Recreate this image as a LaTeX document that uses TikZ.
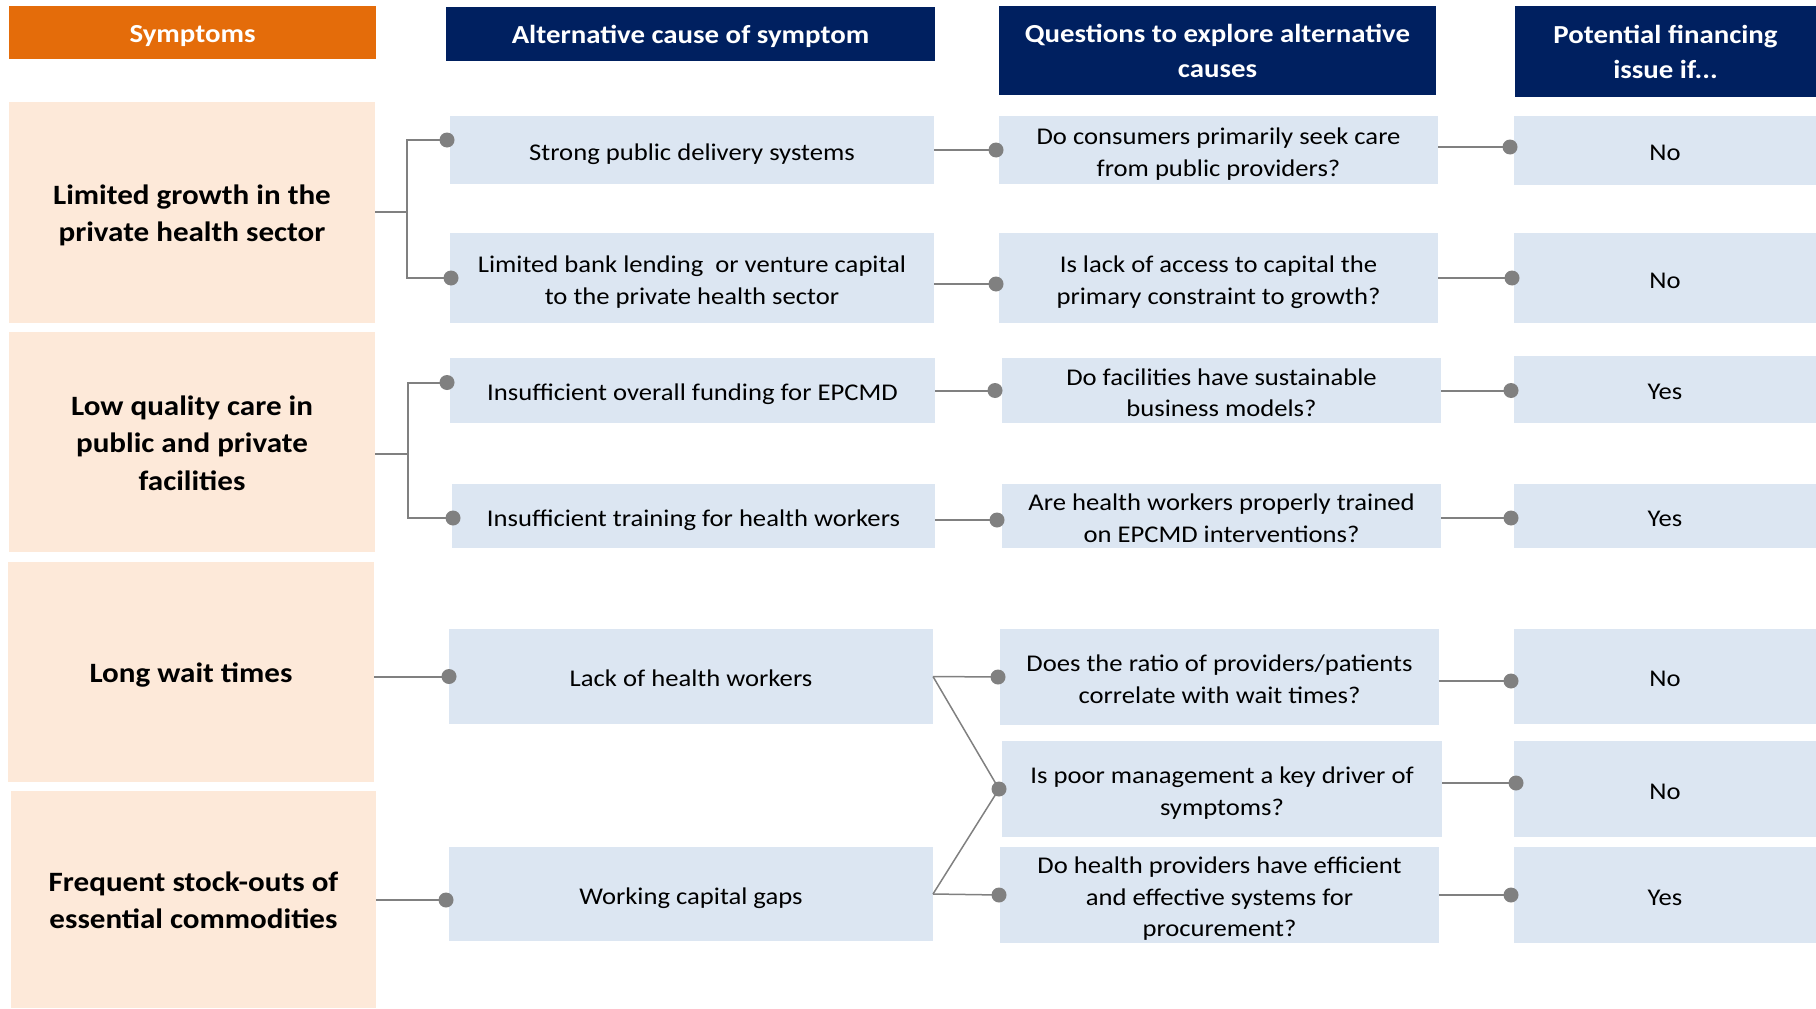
\documentclass[tikz,border=0pt]{standalone}
\usepackage{fontspec}
\setmainfont{Carlito}[FakeStretch=1.11]
\definecolor{orangeH}{HTML}{E46C0A}
\definecolor{navyH}{HTML}{002060}
\definecolor{peach}{HTML}{FDE9D9}
\definecolor{lblue}{HTML}{DCE6F2}
\definecolor{lineg}{HTML}{808080}
\newcommand{\boxtext}[2][-4pt]{\raisebox{#1}[\height][\depth]{\begin{tabular}{@{}c@{}}#2\end{tabular}}}
\begin{document}
\begin{tikzpicture}[x=1pt,y=-1pt,
  base/.style={inner sep=0pt, outer sep=0pt, align=center},
  hdr/.style={base, fill=navyH, text=white, font=\fontsize{26}{35}\selectfont\bfseries},
  symbox/.style={base, fill=peach, text=black, minimum width=366pt, font=\fontsize{28}{37.5}\selectfont\bfseries},
  cbox/.style={base, fill=lblue, text=black, font=\fontsize{24}{31.5}\selectfont},
  conn/.style={draw=lineg, line width=2pt},
  dotc/.style={fill=lineg}
]
\useasboundingbox (0,0) rectangle (1816,1009);
% headers
\node[hdr, fill=orangeH, minimum width=367pt, minimum height=53pt] (hS) at (192.5,32.5) {\boxtext[-2.5pt]{Symptoms}};
\node[hdr, minimum width=489pt, minimum height=54pt] (hA) at (690.5,34) {\boxtext[-2.5pt]{Alternative cause of symptom}};
\node[hdr, minimum width=437pt, minimum height=89pt] (hQ) at (1217.5,50.5) {\boxtext[-2.5pt]{Questions to explore alternative\\causes}};
\node[hdr, minimum width=301pt, minimum height=91pt] (hP) at (1665.5,51.5) {\boxtext[-2.5pt]{Potential financing\\issue if...}};
% symptoms
\node[symbox, minimum height=221pt] (s1) at (192,212.5) {\boxtext[-3pt]{Limited growth in the\\private health sector}};
\node[symbox, minimum height=220pt] (s2) at (192,442) {\boxtext[-3pt]{Low quality care in\\public and private\\facilities}};
\node[symbox, minimum height=220pt] (s3) at (191,672) {\boxtext[-3pt]{Long wait times}};
\node[symbox, minimum width=365pt, minimum height=217pt] (s4) at (193.5,899.5) {\boxtext[-3pt]{Frequent stock-outs of\\essential commodities}};
% causes
\node[cbox, minimum width=484pt, minimum height=68pt] (a1) at (692,150) {\boxtext{Strong public delivery systems}};
\node[cbox, minimum width=484pt, minimum height=90pt] (a2) at (692,278) {\boxtext{Limited bank lending \ or venture capital\\to the private health sector}};
\node[cbox, minimum width=485pt, minimum height=65pt] (a3) at (692.5,390.5) {\boxtext{Insufficient overall funding for EPCMD}};
\node[cbox, minimum width=483pt, minimum height=64pt] (a4) at (693.5,516) {\boxtext{Insufficient training for health workers}};
\node[cbox, minimum width=484pt, minimum height=95pt] (a5) at (691,676.5) {\boxtext{Lack of health workers}};
\node[cbox, minimum width=484pt, minimum height=94pt] (a6) at (691,894) {\boxtext{Working capital gaps}};
% questions
\node[cbox, minimum width=439pt, minimum height=68pt] (q1) at (1218.5,150) {\boxtext{Do consumers primarily seek care\\from public providers?}};
\node[cbox, minimum width=439pt, minimum height=90pt] (q2) at (1218.5,278) {\boxtext{Is lack of access to capital the\\primary constraint to growth?}};
\node[cbox, minimum width=439pt, minimum height=65pt] (q3) at (1221.5,390.5) {\boxtext{Do facilities have sustainable\\business models?}};
\node[cbox, minimum width=439pt, minimum height=64pt] (q4) at (1221.5,516) {\boxtext{Are health workers properly trained\\on EPCMD interventions?}};
\node[cbox, minimum width=439pt, minimum height=96pt] (q5) at (1219.5,677) {\boxtext{Does the ratio of providers/patients\\correlate with wait times?}};
\node[cbox, minimum width=440pt, minimum height=96pt] (q6) at (1222,789) {\boxtext{Is poor management a key driver of\\symptoms?}};
\node[cbox, minimum width=439pt, minimum height=96pt] (q7) at (1219.5,895) {\boxtext{Do health providers have efficient\\and effective systems for\\procurement?}};
% answers
\node[cbox, minimum width=302pt, minimum height=69pt] (p1) at (1665,150.5) {\boxtext{No}};
\node[cbox, minimum width=302pt, minimum height=90pt] (p2) at (1665,278) {\boxtext{No}};
\node[cbox, minimum width=302pt, minimum height=67pt] (p3) at (1665,389.5) {\boxtext{Yes}};
\node[cbox, minimum width=302pt, minimum height=64pt] (p4) at (1665,516) {\boxtext{Yes}};
\node[cbox, minimum width=302pt, minimum height=95pt] (p5) at (1665,676.5) {\boxtext{No}};
\node[cbox, minimum width=302pt, minimum height=96pt] (p6) at (1665,789) {\boxtext{No}};
\node[cbox, minimum width=302pt, minimum height=96pt] (p7) at (1665,895) {\boxtext{Yes}};
% junctions
\coordinate (j1) at (407,212);
\coordinate (j2) at (408,454);
% group 1
\draw[conn] (s1.east |- j1) -- (j1);
\draw[conn] ([xshift=-3pt,yshift=10pt]a1.west) -| (j1);
\draw[conn] ([xshift=1pt]a2.west) -| (j1);
\fill[dotc] ([xshift=-3pt,yshift=10pt]a1.west) circle (7.5pt);
\fill[dotc] ([xshift=1pt]a2.west) circle (7.5pt);
\draw[conn] (a1.east) -- ([xshift=-3pt]q1.west);
\fill[dotc] ([xshift=-3pt]q1.west) circle (7.5pt);
\draw[conn] ([yshift=-6pt]a2.east) -- ([xshift=-3pt,yshift=-6pt]q2.west);
\fill[dotc] ([xshift=-3pt,yshift=-6pt]q2.west) circle (7.5pt);
\draw[conn] ([yshift=3pt]q1.east) -- ([yshift=3pt,xshift=-4pt]q1.east -| p1.west);
\fill[dotc] ([yshift=3pt,xshift=-4pt]q1.east -| p1.west) circle (7.5pt);
\draw[conn] (q2.east) -- ([xshift=-2pt]p2.west);
\fill[dotc] ([xshift=-2pt]p2.west) circle (7.5pt);
% group 2
\draw[conn] (s2.east |- j2) -- (j2);
\draw[conn] ([xshift=-3pt,yshift=8pt]a3.west) -| (j2);
\draw[conn] ([xshift=1pt,yshift=-2pt]a4.west) -| (j2);
\fill[dotc] ([xshift=-3pt,yshift=8pt]a3.west) circle (7.5pt);
\fill[dotc] ([xshift=1pt,yshift=-2pt]a4.west) circle (7.5pt);
\draw[conn] (a3.east) -- ([xshift=-7pt]q3.west);
\fill[dotc] ([xshift=-7pt]q3.west) circle (7.5pt);
\draw[conn] ([yshift=-4pt]a4.east) -- ([xshift=-5pt,yshift=-4pt]q4.west);
\fill[dotc] ([xshift=-5pt,yshift=-4pt]q4.west) circle (7.5pt);
\draw[conn] (q3.east) -- ([xshift=-3pt]q3.east -| p3.west);
\fill[dotc] ([xshift=-3pt]q3.east -| p3.west) circle (7.5pt);
\draw[conn] ([yshift=-2pt]q4.east) -- ([xshift=-3pt,yshift=-2pt]p4.west);
\fill[dotc] ([xshift=-3pt,yshift=-2pt]p4.west) circle (7.5pt);
% group 3
\draw[conn] (s3.east |- a5.west) -- (a5.west);
\fill[dotc] (a5.west) circle (7.5pt);
\coordinate (d6) at ([xshift=-3pt,yshift=-6pt]a6.west);
\draw[conn] (s4.east |- d6) -- (d6);
\fill[dotc] (d6) circle (7.5pt);
\draw[conn, line width=1.5pt] (a5.east) -- ([xshift=-2pt]q5.west);
\fill[dotc] ([xshift=-2pt]q5.west) circle (7.5pt);
\draw[conn, line width=1.5pt] (a5.east) -- ([xshift=-3pt]q6.west);
\draw[conn, line width=1.5pt] (a6.east) -- ([xshift=-3pt]q6.west);
\fill[dotc] ([xshift=-3pt]q6.west) circle (7.5pt);
\draw[conn, line width=1.5pt] (a6.east) -- ([xshift=-1pt]q7.west);
\fill[dotc] ([xshift=-1pt]q7.west) circle (7.5pt);
\draw[conn] ([yshift=-4pt]q5.east) -- ([xshift=-3pt,yshift=-4pt]q5.east -| p5.west);
\fill[dotc] ([xshift=-3pt,yshift=-4pt]q5.east -| p5.west) circle (7.5pt);
\draw[conn] ([yshift=6pt]q6.east) -- ([xshift=2pt,yshift=6pt]q6.east -| p6.west);
\fill[dotc] ([xshift=2pt,yshift=6pt]q6.east -| p6.west) circle (7.5pt);
\draw[conn] (q7.east) -- ([xshift=-3pt]q7.east -| p7.west);
\fill[dotc] ([xshift=-3pt]q7.east -| p7.west) circle (7.5pt);
\end{tikzpicture}
\end{document}
